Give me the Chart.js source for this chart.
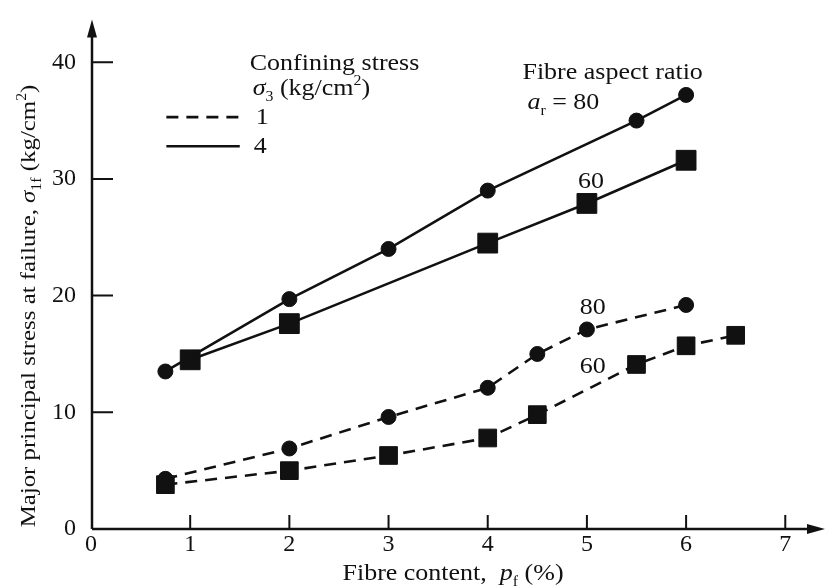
<!DOCTYPE html>
<html>
<head>
<meta charset="utf-8">
<script src="https://cdn.jsdelivr.net/npm/chart.js@4"></script>
<style>
  html, body { margin: 0; padding: 0; background: #fff; }
  canvas { display: block; }
</style>
</head>
<body>
<canvas id="chart" width="834" height="588"></canvas>
<script>
// fibre content (%) against major principal stress at failure (kg/cm2)
// confining stress 4 kg/cm2
const contentHigh80 = [0.75, 2, 3, 4, 5.5, 6];
const stressHigh80 = [13.5, 19.7, 24, 29, 35, 37.2];
const contentHigh60 = [1, 2, 4, 5, 6];
const stressHigh60 = [14.5, 17.6, 24.5, 27.9, 31.6];
// confining stress 1 kg/cm2
const contentLow80 = [0.75, 2, 3, 4, 4.5, 5, 6];
const stressLow80 = [4.3, 6.9, 9.6, 12.1, 15, 17.1, 19.2];
const contentLow60 = [0.75, 2, 3, 4, 4.5, 5.5, 6, 6.5];
const stressLow60 = [3.8, 5, 6.3, 7.8, 9.8, 14.1, 15.7, 16.6];

const xTicks = [0, 1, 2, 3, 4, 5, 6, 7];
const yTicks = [0, 10, 20, 30, 40];

const INK = "#111";
const FONT = '"Liberation Serif", "Times New Roman", serif';
const SIZE = 23;
const STRETCH = 1.13; // wide-set lettering

function toPoints(xs, ys) {
    return xs.map((x, i) => ({ x: x, y: ys[i] }));
}

function fontOf(part, size) {
    return (part.i ? "italic " : "") + Math.round(size * (part.s || 1)) + "px " + FONT;
}

// text with italics, subscripts and superscripts, drawn piece by piece
function rich(ctx, x, y, parts, size, align) {
    let widths = parts.map(p => {
        ctx.font = fontOf(p, size);
        return ctx.measureText(p.t).width;
    });
    let total = widths.reduce((a, b) => a + b, 0) * STRETCH;
    let start = align === "center" ? x - total / 2 : x;
    ctx.save();
    ctx.translate(start, y);
    ctx.scale(STRETCH, 1);
    ctx.textAlign = "left";
    ctx.textBaseline = "alphabetic";
    let cx = 0;
    parts.forEach((p, i) => {
        ctx.font = fontOf(p, size);
        ctx.fillText(p.t, cx, (p.dy || 0) * size);
        cx += widths[i];
    });
    ctx.restore();
}

const sub = t => ({ t: t, s: 0.62, dy: 0.25 });
const sup = t => ({ t: t, s: 0.62, dy: -0.42 });

function series(xs, ys, dashed, style) {
    let square = style === "rect";
    return {
        data: toPoints(xs, ys),
        showLine: true,
        borderColor: INK,
        backgroundColor: INK,
        borderWidth: 2.6,
        borderDash: dashed ? [12, 8] : [],
        pointStyle: style,
        pointRadius: square ? (dashed ? 12.5 : 14) : 7.5,
        pointBorderWidth: 1,
        pointBorderColor: INK,
        pointBackgroundColor: INK
    };
}

const decorations = {
    id: "decorations",
    afterDraw(chart) {
        const ctx = chart.ctx;
        const xs = chart.scales.x;
        const ys = chart.scales.y;
        const area = chart.chartArea;
        const px = v => xs.getPixelForValue(v);
        const py = v => ys.getPixelForValue(v);
        const ox = area.left + 1;
        const oy = area.bottom;

        ctx.save();
        ctx.strokeStyle = INK;
        ctx.fillStyle = INK;
        ctx.lineWidth = 2.5;
        ctx.setLineDash([]);

        // axes
        ctx.beginPath();
        ctx.moveTo(ox, oy);
        ctx.lineTo(ox, area.top + 10);
        ctx.moveTo(ox, oy);
        ctx.lineTo(area.right - 2, oy);
        ctx.stroke();

        // arrow heads
        ctx.beginPath();
        ctx.moveTo(ox, area.top - 2);
        ctx.lineTo(ox - 5, area.top + 16);
        ctx.lineTo(ox + 5, area.top + 16);
        ctx.closePath();
        ctx.fill();
        ctx.beginPath();
        ctx.moveTo(area.right + 6, oy);
        ctx.lineTo(area.right - 12, oy - 5);
        ctx.lineTo(area.right - 12, oy + 5);
        ctx.closePath();
        ctx.fill();

        // tick marks pointing into the plot
        ctx.lineWidth = 2;
        ctx.beginPath();
        yTicks.slice(1).forEach(v => {
            ctx.moveTo(ox, py(v));
            ctx.lineTo(ox + 21, py(v));
        });
        xTicks.slice(1).forEach(v => {
            ctx.moveTo(px(v), oy);
            ctx.lineTo(px(v), oy - 14);
        });
        ctx.stroke();

        // legend for confining stress
        rich(ctx, px(1.60), py(39.3), [{ t: "Confining stress" }], SIZE);
        rich(ctx, px(1.63), py(37.2), [{ t: "\u03c3", i: true }, sub("3"), { t: " (kg/cm" }, sup("2"), { t: ")" }], SIZE);
        ctx.lineWidth = 2.6;
        ctx.setLineDash([12, 8]);
        ctx.beginPath();
        ctx.moveTo(px(0.76), py(35.3));
        ctx.lineTo(px(1.5), py(35.3));
        ctx.stroke();
        ctx.setLineDash([]);
        ctx.beginPath();
        ctx.moveTo(px(0.76), py(32.8));
        ctx.lineTo(px(1.5), py(32.8));
        ctx.stroke();
        rich(ctx, px(1.66), py(34.7), [{ t: "1" }], SIZE);
        rich(ctx, px(1.64), py(32.2), [{ t: "4" }], SIZE);

        // curve labels for fibre aspect ratio
        rich(ctx, px(4.35), py(38.6), [{ t: "Fibre aspect ratio" }], SIZE);
        rich(ctx, px(4.40), py(36.0), [{ t: "a", i: true }, sub("r"), { t: " = 80" }], SIZE);
        rich(ctx, px(5.04), py(29.2), [{ t: "60" }], SIZE, "center");
        rich(ctx, px(5.06), py(18.4), [{ t: "80" }], SIZE, "center");
        rich(ctx, px(5.06), py(13.4), [{ t: "60" }], SIZE, "center");

        // axis titles
        rich(ctx, 453, oy + 51, [{ t: "Fibre content,  " }, { t: "p", i: true }, sub("f"), { t: " (%)" }], SIZE, "center");
        ctx.save();
        ctx.translate(35, 306);
        ctx.rotate(-Math.PI / 2);
        rich(ctx, 0, 0, [
            { t: "Major principal stress at failure, " },
            { t: "\u03c3", i: true }, sub("1f"),
            { t: " (kg/cm" }, sup("2"), { t: ")" }
        ], 22, "center");
        ctx.restore();

        ctx.restore();
    }
};

new Chart(document.getElementById("chart").getContext("2d"), {
    type: "scatter",
    data: {
        datasets: [
            series(contentHigh80, stressHigh80, false, "circle"),
            series(contentHigh60, stressHigh60, false, "rect"),
            series(contentLow80, stressLow80, true, "circle"),
            series(contentLow60, stressLow60, true, "rect")
        ]
    },
    options: {
        responsive: false,
        animation: false,
        layout: { padding: { top: 21, right: 7, left: 0, bottom: 0 } },
        plugins: {
            legend: { display: false },
            tooltip: { enabled: false }
        },
        scales: {
            x: {
                type: "linear",
                min: 0,
                max: 7.34,
                grid: { display: false },
                border: { display: false },
                ticks: { color: INK, font: { family: FONT, size: 24 }, padding: -7, maxRotation: 0 },
                afterBuildTicks: s => { s.ticks = xTicks.map(v => ({ value: v })); },
                afterFit: s => { s.height = 59; }
            },
            y: {
                type: "linear",
                min: 0,
                max: 43.5,
                grid: { display: false },
                border: { display: false },
                ticks: { color: INK, font: { family: FONT, size: 24 }, padding: 7 },
                afterBuildTicks: s => { s.ticks = yTicks.map(v => ({ value: v })); },
                afterFit: s => { s.width = 91; }
            }
        }
    },
    plugins: [decorations]
});
</script>
</body>
</html>
